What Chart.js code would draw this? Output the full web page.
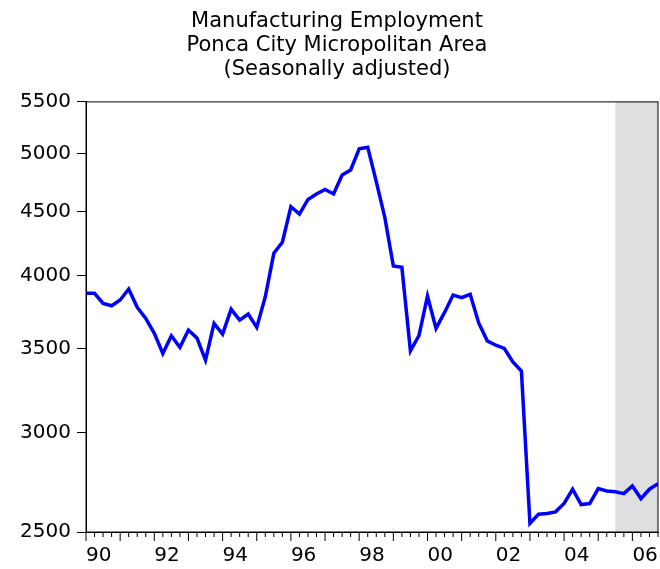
<!DOCTYPE html>
<html>
<head>
<meta charset="utf-8">
<script src="https://cdn.jsdelivr.net/npm/chart.js@4.4.1/dist/chart.umd.min.js"></script>
<style>
  body { margin: 0; background: #fff; }
  #caixa { width: 660px; height: 569px; }
</style>
</head>
<body>
<div id="caixa"><canvas id="graficoEmprego"></canvas></div>
<script>
// quarterly series, 1990Q1 .. 2006Q4
const anoInicial = 1990;
const emprego = [
  3872, 3872, 3801, 3785, 3825, 3903, 3774, 3698, 3598, 3468,
  3582, 3507, 3620, 3567, 3426, 3664, 3593, 3762, 3687, 3728,
  3638, 3848, 4167, 4252, 4538, 4478, 4599, 4646, 4684, 4646,
  4810, 4855, 5046, 5061, 4752, 4451, 4071, 4061, 3485, 3583,
  3853, 3631, 3739, 3860, 3841, 3865, 3668, 3549, 3521, 3500,
  3415, 3358, 2540, 2583, 2586, 2594, 2634, 2704, 2629, 2634,
  2707, 2695, 2691, 2682, 2720, 2658, 2704, 2732
];
const ticksY = [2500, 3000, 3500, 4000, 4500, 5000, 5500];
const anosEixoX = [1990, 1992, 1994, 1996, 1998, 2000, 2002, 2004, 2006];
const inicioSombra = 2005.5;
const fimEixoX = 2006.75;

const pontos = emprego.map((v, i) => ({ x: anoInicial + i / 4, y: v }));

Chart.defaults.font.family = 'DejaVu Sans';
Chart.defaults.color = '#000';

const molduraPlugin = {
  id: 'moldura',
  beforeDatasetsDraw(chart) {
    const { ctx, chartArea, scales } = chart;
    const x0 = scales.x.getPixelForValue(inicioSombra);
    ctx.save();
    ctx.fillStyle = '#dfdfdf';
    ctx.fillRect(x0, chartArea.top, chartArea.right - x0, chartArea.bottom - chartArea.top);
    ctx.restore();
  },
  afterDraw(chart) {
    const { ctx, chartArea, scales } = chart;
    ctx.save();
    ctx.strokeStyle = '#000';
    ctx.lineWidth = 1;
    ctx.strokeRect(chartArea.left, chartArea.top, chartArea.right - chartArea.left, chartArea.bottom - chartArea.top);

    // marcas trimestrais no eixo x
    ctx.beginPath();
    for (let q = 0; q < emprego.length; q++) {
      const px = scales.x.getPixelForValue(anoInicial + q / 4);
      const tam = q % 4 == 0 ? 9 : 5;
      ctx.moveTo(px, chartArea.bottom);
      ctx.lineTo(px, chartArea.bottom + tam);
    }
    ctx.stroke();
    ctx.restore();
  }
};

const graficoEmprego = document.getElementById('graficoEmprego');

new Chart(graficoEmprego, {
  type: 'line',
  data: {
    datasets: [{
      label: 'Manufacturing Employment',
      data: pontos,
      borderColor: '#0000ff',
      borderWidth: 3.5,
      pointRadius: 0,
      tension: 0,
      fill: false
    }]
  },
  options: {
    responsive: true,
    maintainAspectRatio: false,
    animation: false,
    layout: {
      padding: { left: 16, right: 2, top: 0, bottom: 0 }
    },
    plugins: {
      legend: { display: false },
      tooltip: { enabled: false },
      title: {
        display: true,
        text: ['Manufacturing Employment', 'Ponca City Micropolitan Area', '(Seasonally adjusted)'],
        color: '#000',
        font: { size: 21, weight: 'normal', lineHeight: 1.157 },
        padding: { top: 9, bottom: 20 }
      }
    },
    scales: {
      x: {
        type: 'linear',
        min: anoInicial,
        max: fimEixoX,
        afterBuildTicks: (scale) => {
          scale.ticks = anosEixoX.map(a => ({ value: a }));
        },
        afterFit: (scale) => {
          scale.height = 37;
        },
        ticks: {
          align: 'start',
          autoSkip: false,
          maxRotation: 0,
          padding: 0,
          font: { size: 20 },
          callback: (v) => String(v % 100).padStart(2, '0')
        },
        grid: { display: false, drawTicks: true, tickLength: 12 },
        border: { display: true, color: '#000', width: 1 }
      },
      y: {
        type: 'logarithmic',
        min: 2500,
        max: 5500,
        afterBuildTicks: (scale) => {
          scale.ticks = ticksY.map(v => ({ value: v }));
        },
        afterFit: (scale) => {
          scale.width = 70;
        },
        ticks: {
          autoSkip: false,
          padding: 6,
          font: { size: 20 },
          callback: (v) => String(v)
        },
        grid: { drawOnChartArea: false, drawTicks: true, tickLength: 9, color: '#000', lineWidth: 1 },
        border: { display: true, color: '#000', width: 1 }
      }
    }
  },
  plugins: [molduraPlugin]
});
</script>
</body>
</html>
